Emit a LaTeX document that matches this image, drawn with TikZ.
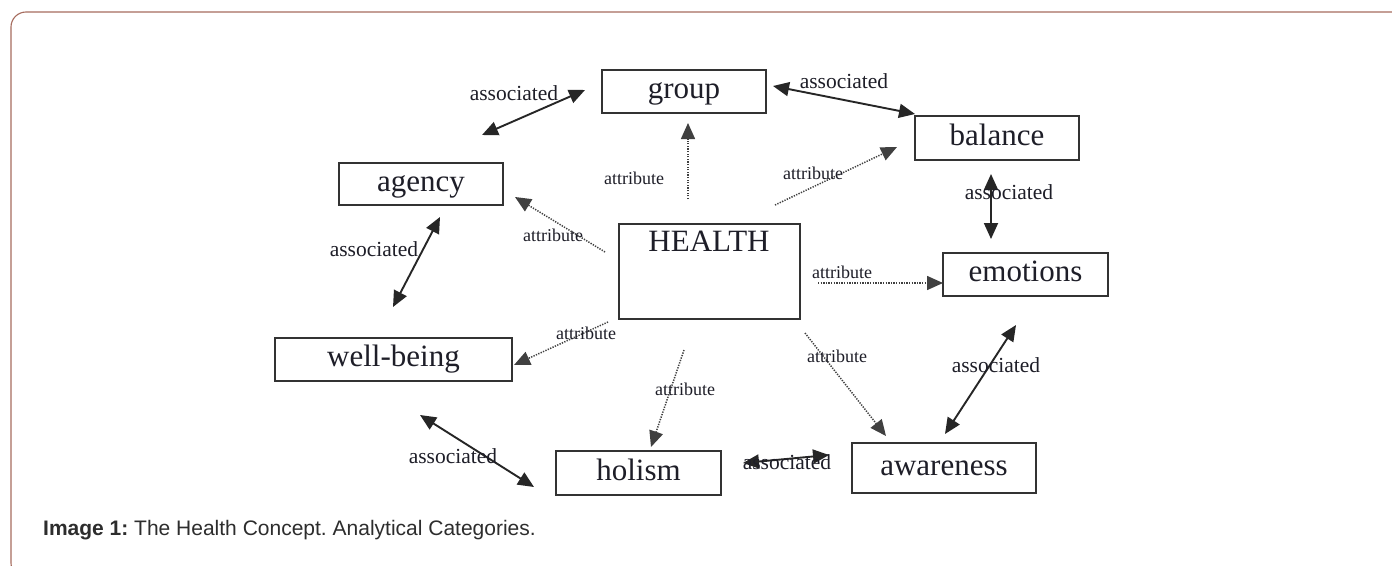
\documentclass[tikz,border=0pt]{standalone}
\usepackage{fontspec}
\setmainfont{Liberation Serif}
\setsansfont{Liberation Sans}
\usetikzlibrary{arrows.meta}
\definecolor{framec}{RGB}{166,108,94}
\definecolor{capc}{RGB}{45,45,45}
\definecolor{inkc}{RGB}{30,30,40}
\frenchspacing
\begin{document}
\begin{tikzpicture}[x=1pt,y=-1pt,
  box/.style={draw=black!80, line width=1.8pt, inner sep=0pt, text height=21pt, text depth=7pt,
              font=\fontsize{31}{36}\selectfont, text=inkc},
  assoc/.style={draw=black!85, line width=1.9pt,
              {Triangle[length=16pt,width=14pt]}-{Triangle[length=16pt,width=14pt]}},
  attr/.style={draw=black!75, line width=1.5pt, dash pattern=on 1.3pt off 1.3pt,
              -{Triangle[length=16pt,width=14pt]}},
  alabel/.style={font=\fontsize{21.5}{24}\selectfont, inner sep=0pt, text=inkc},
  tlabel/.style={font=\fontsize{18}{20}\selectfont, inner sep=0pt, text=inkc}]
\useasboundingbox (0,0) rectangle (1392,565);
\clip (0,0) rectangle (1392,565);
\fill[white] (0,0) rectangle (1392,565);
% frame
\draw[framec, line width=1.1pt, rounded corners=15pt] (11,12) rectangle (1430,578);

% boxes
\node[box, minimum width=164pt, minimum height=43pt] (group) at (684,91.5) {group};
\node[box, minimum width=164pt, minimum height=44pt] (balance) at (997,138) {balance};
\node[box, minimum width=164pt, minimum height=42pt] (agency) at (421,184) {agency};
\node[box, minimum width=181pt, minimum height=95pt] (health) at (709.5,271.5) {};
\node[font=\fontsize{31}{36}\selectfont, text=inkc, inner sep=0pt, anchor=base] (healthtxt) at (709,251) {HEALTH};
\node[box, minimum width=165pt, minimum height=43pt] (emotions) at (1025.5,274.5) {emotions};
\node[box, minimum width=237pt, minimum height=43pt] (wellbeing) at (393.5,359.5) {well-being};
\node[box, minimum width=165pt, minimum height=44pt] (holism) at (638.5,473) {holism};
\node[box, minimum width=184pt, minimum height=50pt] (awareness) at (944,468) {awareness};

% connector end points
\coordinate (gaG) at (585,90);   \coordinate (gaA) at (482,135);
\coordinate (gbG) at (773,86);   \coordinate (gbB) at (915,114);
\coordinate (beB) at (991,174);  \coordinate (beE) at (991,239);
\coordinate (eaE) at (1016,325); \coordinate (eaA) at (945,434);
\coordinate (ahA) at (829,455);  \coordinate (ahH) at (743,463);
\coordinate (hwH) at (534,487);  \coordinate (hwW) at (420,415);
\coordinate (awA) at (440,217);  \coordinate (awW) at (393,307);

\coordinate (tG0) at (688,199);  \coordinate (tG1) at (688,123);
\coordinate (tB0) at (775,205);  \coordinate (tB1) at (897,147);
\coordinate (tA0) at (605,252);  \coordinate (tA1) at (515,197);
\coordinate (tE0) at (818,283);  \coordinate (tE1) at (943,283);
\coordinate (tW0) at (608,322);  \coordinate (tW1) at (514,365);
\coordinate (tH0) at (684,350);  \coordinate (tH1) at (651,447);
\coordinate (tR0) at (805,333);  \coordinate (tR1) at (886,436);

% associated connectors
\draw[assoc] (gaA) -- (gaG);
\draw[assoc] (gbG) -- (gbB);
\draw[assoc] (beB) -- (beE);
\draw[assoc] (eaA) -- (eaE);
\draw[assoc] (ahH) -- (ahA);
\draw[assoc] (hwW) -- (hwH);
\draw[assoc] (awA) -- (awW);

% attribute connectors
\draw[attr] (tG0) -- (tG1);
\draw[attr] (tB0) -- (tB1);
\draw[attr] (tA0) -- (tA1);
\draw[attr] (tE0) -- (tE1);
\draw[attr] (tW0) -- (tW1);
\draw[attr] (tH0) -- (tH1);
\draw[attr] (tR0) -- (tR1);

% labels
\node[alabel] (l1) at (514,93) {associated};
\node[alabel] (l2) at (844,81) {associated};
\node[alabel] (l3) at (1009,192) {associated};
\node[alabel] (l4) at (996,365) {associated};
\node[alabel] (l5) at (787,462) {associated};
\node[alabel] (l6) at (453,456) {associated};
\node[alabel] (l7) at (374,249) {associated};

\node[tlabel] (t1) at (634,178) {attribute};
\node[tlabel] (t2) at (813,173) {attribute};
\node[tlabel] (t3) at (553,235) {attribute};
\node[tlabel] (t4) at (842,272) {attribute};
\node[tlabel] (t5) at (586,333) {attribute};
\node[tlabel] (t6) at (685,389) {attribute};
\node[tlabel] (t7) at (837,356) {attribute};

% caption
\node[font=\sffamily\fontsize{21}{25}\selectfont, text=capc, inner sep=0pt, anchor=base west] (caption)
  at (43,535) {\textbf{Image 1:} The Health Concept. Analytical Categories.};
\end{tikzpicture}
\end{document}
